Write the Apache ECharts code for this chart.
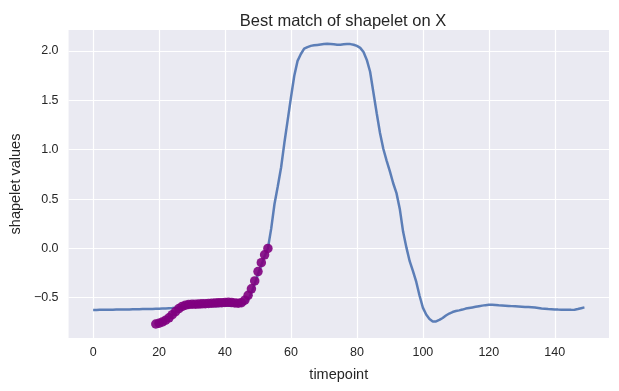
<!DOCTYPE html>
<html>
<head>
<meta charset="utf-8">
<script src="https://cdn.jsdelivr.net/npm/echarts@6/dist/echarts.min.js"></script>
<style>html,body{margin:0;padding:0;background:#fff;}#c{width:619px;height:391px;}</style>
</head>
<body>
<div id="c"></div>
<script>
// Full time series (timepoints 0..149)
var seriesX = [
-0.624,-0.624,-0.623,-0.623,-0.622,-0.622,-0.621,-0.620,-0.620,-0.619,
-0.618,-0.618,-0.617,-0.616,-0.616,-0.615,-0.614,-0.614,-0.613,-0.612,
-0.611,-0.610,-0.609,-0.607,-0.605,-0.602,-0.599,-0.596,-0.594,-0.592,
-0.591,-0.590,-0.589,-0.588,-0.587,-0.586,-0.585,-0.584,-0.583,-0.582,
-0.581,-0.580,-0.580,-0.579,-0.578,-0.574,-0.560,-0.520,-0.450,-0.360,
-0.260,-0.170,-0.080,0.000,0.200,0.450,0.630,0.820,1.070,1.300,
1.530,1.750,1.900,1.970,2.025,2.040,2.052,2.058,2.062,2.066,
2.070,2.074,2.072,2.068,2.064,2.064,2.068,2.071,2.070,2.064,
2.052,2.032,1.990,1.910,1.790,1.580,1.370,1.170,1.010,0.890,
0.780,0.660,0.560,0.400,0.170,0.010,-0.130,-0.230,-0.340,-0.480,
-0.600,-0.670,-0.715,-0.740,-0.740,-0.725,-0.705,-0.680,-0.660,-0.645,
-0.635,-0.628,-0.620,-0.610,-0.604,-0.598,-0.592,-0.586,-0.580,-0.575,
-0.572,-0.572,-0.574,-0.577,-0.579,-0.581,-0.583,-0.585,-0.587,-0.589,
-0.591,-0.593,-0.595,-0.597,-0.600,-0.604,-0.608,-0.611,-0.614,-0.616,
-0.618,-0.620,-0.621,-0.622,-0.623,-0.623,-0.621,-0.614,-0.606,-0.598
];
// Shapelet best-match position and values
var shapeletStart = 19;
var shapeletValues = [
-0.766,-0.758,-0.745,-0.727,-0.703,-0.672,-0.640,-0.610,-0.588,-0.575,
-0.568,-0.566,-0.565,-0.564,-0.562,-0.560,-0.558,-0.556,-0.554,-0.552,
-0.550,-0.548,-0.547,-0.549,-0.553,-0.556,-0.550,-0.525,-0.475,-0.410,
-0.330,-0.235,-0.145,-0.065,0.000
];
var xTicks = [0, 20, 40, 60, 80, 100, 120, 140];
var yTicks = [-0.5, 0.0, 0.5, 1.0, 1.5, 2.0];

var lineData = seriesX.map(function (v, i) { return [i, v]; });
var scatterData = shapeletValues.map(function (v, i) { return [shapeletStart + i, v]; });

var font = 'Liberation Sans, Arial, sans-serif';
var txt = '#262626';
var chart = echarts.init(document.getElementById('c'), null, { renderer: 'canvas' });
chart.setOption({
  backgroundColor: '#ffffff',
  animation: false,
  title: {
    text: 'Best match of shapelet on X',
    left: 338, top: 8, textAlign: 'center',
    textStyle: { fontFamily: font, fontSize: 16.5, fontWeight: 'normal', color: txt }
  },
  grid: { left: 67, right: 10, top: 30, bottom: 53, show: true, backgroundColor: '#eaeaf2', borderWidth: 0 },
  xAxis: {
    type: 'value', min: -7.45, max: 156.45,
    name: 'timepoint', nameLocation: 'middle', nameGap: 29,
    nameTextStyle: { fontFamily: font, fontSize: 14.5, color: txt },
    axisLine: { show: false },
    axisTick: { show: false, customValues: xTicks },
    axisLabel: { customValues: xTicks, fontFamily: font, fontSize: 12.5, color: txt, margin: 8 },
    splitLine: { show: true, lineStyle: { color: '#ffffff', width: 1.2 } }
  },
  yAxis: {
    type: 'value', min: -0.908, max: 2.213,
    name: 'shapelet values', nameLocation: 'middle', nameGap: 44, nameRotate: 90,
    nameTextStyle: { fontFamily: font, fontSize: 14.5, color: txt },
    axisLine: { show: false },
    axisTick: { show: false, customValues: yTicks },
    axisLabel: {
      customValues: yTicks, fontFamily: font, fontSize: 12.5, color: txt, margin: 10,
      formatter: function (v) { return v.toFixed(1).replace('-', '\u2212'); }
    },
    splitLine: { show: true, lineStyle: { color: '#ffffff', width: 1.2 } }
  },
  series: [
    {
      type: 'line', data: lineData, showSymbol: false, symbol: 'none',
      lineStyle: { color: '#4c72b0', width: 2.5, opacity: 0.9 },
      z: 2
    },
    {
      type: 'scatter', data: scatterData, symbolSize: 9.5,
      itemStyle: { color: '#800080', opacity: 0.9 },
      z: 3
    }
  ]
});
</script>
</body>
</html>
